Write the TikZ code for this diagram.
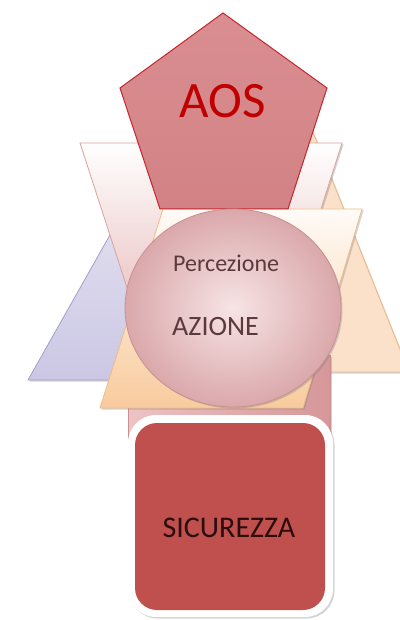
\documentclass[tikz,border=0pt]{standalone}
\usepackage{fontspec}
\setmainfont{Carlito}
\usetikzlibrary{shadows}
\definecolor{lavtop}{HTML}{EEECF6}
\definecolor{lavbot}{HTML}{CBC7E4}
\definecolor{lavline}{HTML}{A09FCB}
\definecolor{peachfill}{HTML}{FBE1CA}
\definecolor{peachline}{HTML}{F1BA85}
\definecolor{trapbot}{HTML}{EBC5C5}
\definecolor{trapline}{HTML}{D9A39D}
\definecolor{paratop}{HTML}{FFFBF7}
\definecolor{parabot}{HTML}{F8CB9D}
\definecolor{pentfill}{HTML}{DA8E91}
\definecolor{pentbot}{HTML}{D28285}
\definecolor{pentline}{HTML}{C4262E}
\definecolor{circin}{HTML}{F7E4E5}
\definecolor{circout}{HTML}{DAA8AB}
\definecolor{circline}{HTML}{C98F92}
\definecolor{barleft}{HTML}{EDC3C4}
\definecolor{barright}{HTML}{D69799}
\definecolor{sqfill}{HTML}{C0504D}
\definecolor{aoscol}{HTML}{C00000}
\definecolor{circtext}{HTML}{5B3A3D}
\definecolor{sqtext}{HTML}{2B0D0D}
\tikzset{
  softshadow/.style={drop shadow={opacity=0.35, shadow xshift=1.5pt, shadow yshift=-1.5pt, fill=gray}},
  lbl/.style={inner sep=0pt, font=\fontsize{#1}{#1}\selectfont},
}
\begin{document}
\begin{tikzpicture}[x=1pt,y=-1pt]
\useasboundingbox (0,0) rectangle (399,620);
% lavender triangle
\draw[softshadow, top color=lavtop, bottom color=lavbot, draw=lavline, line width=0.8pt]
  (175,120) -- (322,380) -- (28,380) -- cycle;
% peach triangle
\draw[softshadow, fill=peachfill, draw=peachline, line width=0.8pt]
  (300,100) -- (409,372) -- (191,372) -- cycle;
% pink bar
\draw[softshadow, left color=barleft, right color=barright, draw=circline, line width=0.5pt]
  (128,355) rectangle (330,440);
% white trapezoid
\draw[softshadow, top color=white, bottom color=trapbot, draw=trapline, line width=0.8pt]
  (80,143) -- (342,143) -- (292,300) -- (131,300) -- cycle;
% peach parallelogram
\draw[softshadow, top color=paratop, bottom color=parabot, draw=peachline, line width=0.8pt]
  (163,209) -- (362,209) -- (303,408) -- (100,408) -- cycle;
% pentagon
\draw[top color=pentfill, bottom color=pentbot, draw=pentline, line width=1pt]
  (223,13) -- (327,88) -- (288,209) -- (160,209) -- (120,88) -- cycle;
\node[lbl=51, text=aoscol] (aos) at (223,101) {AOS};
% circle
\draw[softshadow, inner color=circin, outer color=circout, draw=circline, line width=0.8pt]
  (233,308) ellipse [x radius=108, y radius=99];
\node[lbl=24, text=circtext, anchor=west] (perc) at (173,263) {Percezione};
\node[lbl=28, text=circtext, anchor=west] (azione) at (172,327) {AZIONE};
% rounded square
\fill[softshadow, white, rounded corners=28pt] (128,415) rectangle (333,617);
\fill[sqfill, rounded corners=22pt] (135,423) rectangle (325,610);
\node[lbl=30, text=sqtext] (sic) at (229,528) {SICUREZZA};
\end{tikzpicture}
\end{document}
